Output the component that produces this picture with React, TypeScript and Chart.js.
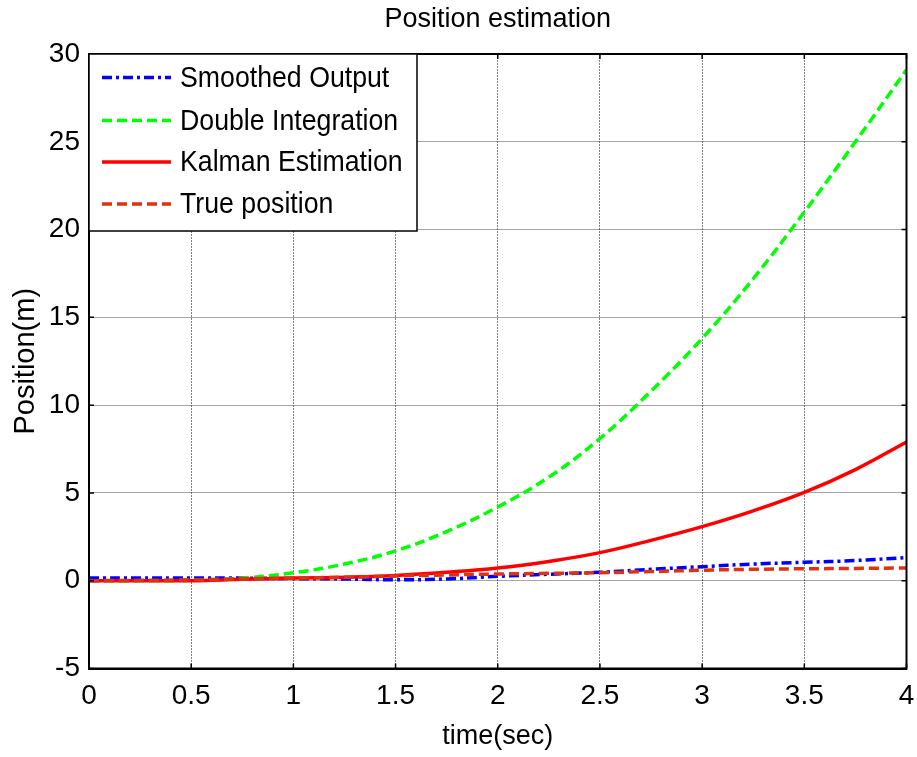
import React, { useEffect, useRef } from "react";
import { Chart, registerables } from "chart.js";

Chart.register(...registerables);

const timeSec = [0, 0.25, 0.5, 0.75, 1, 1.25, 1.5, 1.75, 2, 2.25, 2.5, 2.75, 3, 3.25, 3.5, 3.75, 4];
const smoothedOutput = [0.15, 0.15, 0.15, 0.15, 0.12, 0.1, 0.05, 0.1, 0.25, 0.37, 0.48, 0.65, 0.8, 0.95, 1.05, 1.15, 1.32];
const doubleIntegration = [0, 0, 0.02, 0.15, 0.45, 0.95, 1.7, 2.8, 4.2, 5.9, 8.1, 10.8, 13.8, 17.2, 21.0, 25.0, 29.1];
const kalmanEstimation = [0, 0, 0, 0.08, 0.15, 0.2, 0.3, 0.48, 0.72, 1.1, 1.6, 2.3, 3.08, 3.98, 5.03, 6.33, 7.9];
const truePosition = [0, 0.02, 0.05, 0.1, 0.15, 0.2, 0.27, 0.33, 0.38, 0.42, 0.46, 0.52, 0.6, 0.65, 0.68, 0.7, 0.73];

const seriesLabels = ["Smoothed Output", "Double Integration", "Kalman Estimation", "True position"];
const chartTitle = "Position estimation";
const xTitle = "time(sec)";
const yTitle = "Position(m)";

const FONT = "'Liberation Sans', Arial, sans-serif";

const toPoints = (ys: number[]) => timeSec.map((x, i) => ({ x, y: ys[i] }));

const framePlugin = {
  id: "framePlugin",
  afterDraw(chart: any) {
    const { ctx, chartArea } = chart;
    const { left, right, top, bottom } = chartArea;
    ctx.save();
    ctx.strokeStyle = "#000";
    ctx.lineWidth = 1.5;
    const xs = chart.scales.x;
    const ys = chart.scales.y;
    const tl = 5;
    ctx.beginPath();
    xs.ticks.forEach((t: any) => {
      const px = xs.getPixelForValue(t.value);
      ctx.moveTo(px, bottom);
      ctx.lineTo(px, bottom - tl);
      ctx.moveTo(px, top);
      ctx.lineTo(px, top + tl);
    });
    ys.ticks.forEach((t: any) => {
      const py = ys.getPixelForValue(t.value);
      ctx.moveTo(left, py);
      ctx.lineTo(left + tl, py);
      ctx.moveTo(right, py);
      ctx.lineTo(right - tl, py);
    });
    ctx.stroke();
    ctx.lineWidth = 2;
    ctx.strokeRect(left, top, right - left, bottom - top);

    // legend box
    const lx = left;
    const ly = top;
    const lw = 328;
    const lh = 177;
    ctx.fillStyle = "#fff";
    ctx.fillRect(lx, ly, lw, lh);
    ctx.lineWidth = 1.5;
    ctx.strokeStyle = "#000";
    ctx.strokeRect(lx, ly, lw, lh);
    const rowY = [23.5, 66.5, 108, 150];
    chart.data.datasets.forEach((ds: any, i: number) => {
      const y = ly + rowY[i];
      ctx.save();
      ctx.strokeStyle = ds.borderColor;
      ctx.lineWidth = ds.borderWidth;
      ctx.setLineDash(ds.borderDash || []);
      ctx.beginPath();
      ctx.moveTo(lx + 13, y);
      ctx.lineTo(lx + 82, y);
      ctx.stroke();
      ctx.restore();
      ctx.save();
      ctx.fillStyle = "#000";
      ctx.font = `30px ${FONT}`;
      ctx.textBaseline = "middle";
      ctx.textAlign = "left";
      ctx.translate(lx + 91, y + 1);
      ctx.scale(0.89, 1);
      ctx.fillText(ds.label, 0, 0);
      ctx.restore();
    });
    ctx.restore();
  },
};

export default function App() {
  const ref = useRef<HTMLCanvasElement | null>(null);
  useEffect(() => {
    if (!ref.current) return;
    const chart = new Chart(ref.current, {
      type: "line",
      data: {
        datasets: [
          {
            label: seriesLabels[0],
            data: toPoints(smoothedOutput),
            borderColor: "#0000ff",
            borderWidth: 3.5,
            borderDash: [10, 4, 3, 4],
            pointRadius: 0,
            tension: 0.4,
            order: 3,
          },
          {
            label: seriesLabels[1],
            data: toPoints(doubleIntegration),
            borderColor: "#00ff00",
            borderWidth: 3.5,
            borderDash: [10, 5],
            pointRadius: 0,
            tension: 0.4,
            order: 2,
          },
          {
            label: seriesLabels[2],
            data: toPoints(kalmanEstimation),
            borderColor: "#ff0000",
            borderWidth: 3.5,
            pointRadius: 0,
            tension: 0.4,
            order: 1,
          },
          {
            label: seriesLabels[3],
            data: toPoints(truePosition),
            borderColor: "#dd3311",
            borderWidth: 3.5,
            borderDash: [10, 5],
            pointRadius: 0,
            tension: 0.4,
            order: 0,
          },
        ],
      },
      options: {
        animation: false,
        responsive: false,
        devicePixelRatio: 1,
        layout: { padding: { left: 0, right: 10.5, top: 0, bottom: 0 } },
        plugins: {
          legend: { display: false },
          tooltip: { enabled: false },
          title: {
            display: true,
            fullSize: false,
            text: chartTitle,
            color: "#000",
            font: { family: FONT, size: 27, weight: "normal", lineHeight: 1.2 },
            padding: { top: 3, bottom: 18.6 },
          },
        },
        scales: {
          x: {
            type: "linear",
            min: 0,
            max: 4,
            ticks: {
              stepSize: 0.5,
              color: "#000",
              padding: 11,
              font: { family: FONT, size: 28 },
              maxRotation: 0,
              callback: (v: any) => String(Number(v)),
            },
            grid: {
              color: "rgba(0,0,0,0.5)",
              lineWidth: 1,
              drawTicks: false,
            },
            border: { display: true, color: "#000", width: 2, dash: [2, 1] },
            title: {
              display: true,
              text: xTitle,
              color: "#000",
              font: { family: FONT, size: 27, lineHeight: 1.2 },
              padding: { top: 0, bottom: 4 },
            },
            afterFit: (s: any) => {
              s.height = 88.5;
              s.paddingLeft = 0;
              s.paddingRight = 0;
            },
          },
          y: {
            type: "linear",
            min: -5,
            max: 30,
            ticks: {
              stepSize: 5,
              color: "#000",
              padding: 9,
              font: { family: FONT, size: 28 },
            },
            grid: {
              color: "rgba(0,0,0,0.35)",
              lineWidth: 1,
              drawTicks: false,
            },
            border: { display: true, color: "#000", width: 2 },
            title: {
              display: true,
              text: yTitle,
              color: "#000",
              font: { family: FONT, size: 29, lineHeight: 1.2 },
              padding: { top: 9, bottom: 0 },
            },
            afterFit: (s: any) => {
              s.width = 89;
              s.paddingTop = 0;
              s.paddingBottom = 0;
            },
          },
        },
      },
      plugins: [framePlugin],
    });
    return () => chart.destroy();
  }, []);
  return (
    <div style={{ position: "absolute", left: 0, top: 0, width: 917, height: 757, background: "#fff" }}>
      <canvas ref={ref} width={917} height={757} style={{ display: "block", width: 917, height: 757 }} />
    </div>
  );
}
